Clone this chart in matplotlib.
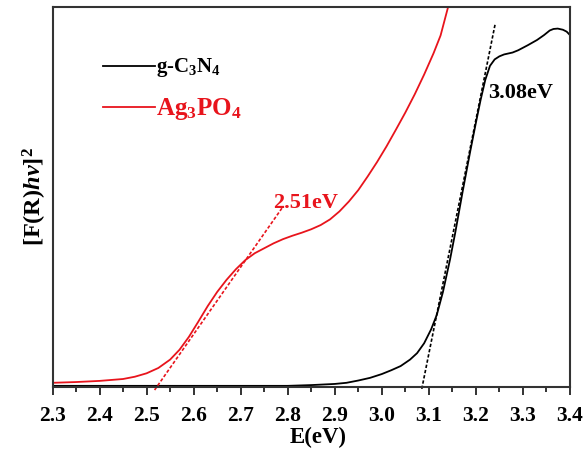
import matplotlib
matplotlib.use("Agg")
import matplotlib.pyplot as plt
from matplotlib.ticker import MultipleLocator

plt.rcParams['font.family'] = ['Liberation Serif', 'DejaVu Serif']
plt.rcParams['font.weight'] = 'bold'
plt.rcParams['mathtext.fontset'] = 'custom'
plt.rcParams['mathtext.rm'] = 'Liberation Serif:bold'
plt.rcParams['mathtext.bf'] = 'Liberation Serif:bold'
plt.rcParams['mathtext.it'] = 'Liberation Serif:italic:bold'

# ---- data ----
ag_E = [2.300, 2.350, 2.400, 2.450, 2.475, 2.500, 2.525, 2.550, 2.570, 2.590, 2.610,
        2.630, 2.650, 2.670, 2.690, 2.710, 2.730, 2.750, 2.770, 2.790, 2.810,
        2.830, 2.850, 2.870, 2.890, 2.910, 2.930, 2.950, 2.970, 2.990, 3.010,
        3.030, 3.050, 3.070, 3.090, 3.110, 3.125, 3.141, 3.160]
ag_V = [0.011, 0.013, 0.016, 0.021, 0.027, 0.036, 0.050, 0.072, 0.098, 0.132, 0.172,
        0.213, 0.250, 0.282, 0.310, 0.334, 0.352, 0.365, 0.378, 0.389, 0.398,
        0.406, 0.415, 0.426, 0.441, 0.462, 0.488, 0.518, 0.554, 0.592, 0.633,
        0.677, 0.722, 0.770, 0.822, 0.878, 0.925, 1.000, 1.060]

cn_E = [2.300, 2.500, 2.700, 2.800, 2.850, 2.900, 2.925, 2.950, 2.975, 3.000, 3.020,
        3.040, 3.060, 3.075, 3.090, 3.105, 3.117, 3.130, 3.145, 3.156, 3.172,
        3.188, 3.200, 3.210, 3.220, 3.230, 3.240, 3.250, 3.260, 3.278, 3.290,
        3.310, 3.330, 3.345, 3.357, 3.365, 3.374, 3.385, 3.393, 3.400]
cn_V = [0.003, 0.003, 0.003, 0.003, 0.005, 0.008, 0.011, 0.017, 0.024, 0.034, 0.044,
        0.055, 0.072, 0.089, 0.115, 0.152, 0.190, 0.250, 0.335, 0.405, 0.515,
        0.620, 0.695, 0.755, 0.808, 0.845, 0.862, 0.870, 0.875, 0.880, 0.886,
        0.899, 0.913, 0.926, 0.938, 0.942, 0.943, 0.940, 0.935, 0.926]

ag_tan_E = [2.517, 2.788]
ag_tan_V = [-0.008, 0.471]
cn_tan_E = [3.085, 3.241]
cn_tan_V = [-0.005, 0.955]

ag_gap_label = "2.51eV"
cn_gap_label = "3.08eV"
xticks = [2.3, 2.4, 2.5, 2.6, 2.7, 2.8, 2.9, 3.0, 3.1, 3.2, 3.3, 3.4]

fig = plt.figure(figsize=(5.88, 4.59), dpi=100)
ax = fig.add_axes([0.0893, 0.1569, 0.880, 0.828])

red = '#e8141c'
ax.plot(cn_E, cn_V, color='black', lw=1.3)
ax.plot(ag_E, ag_V, color=red, lw=1.3)
ax.plot(cn_tan_E, cn_tan_V, color='black', lw=1.2, ls=(0, (2, 1.2)), clip_on=False)
ax.plot(ag_tan_E, ag_tan_V, color=red, lw=1.2, ls=(0, (2, 1.2)), clip_on=False)

ax.text(2.769, 0.471, ag_gap_label, color=red, fontsize=16, fontweight='bold',
        ha='left', va='baseline')
ax.text(3.226, 0.761, cn_gap_label, color='black', fontsize=16, fontweight='bold',
        ha='left', va='baseline')

# legend drawn manually
ax.plot([0.0976, 0.198], [0.845, 0.845], color='black', lw=1.3, transform=ax.transAxes)
ax.text(0.200, 0.840, 'g-C$_3$N$_4$', color='black', fontsize=15, fontweight='bold',
        ha='left', va='center', transform=ax.transAxes)
ax.plot([0.0976, 0.198], [0.737, 0.737], color=red, lw=1.3, transform=ax.transAxes)
ax.text(0.200, 0.732, 'Ag$_3$PO$_4$', color=red, fontsize=18, fontweight='bold',
        ha='left', va='center', transform=ax.transAxes)

ax.set_xlim(2.3, 3.4)
ax.set_ylim(0, 1)
ax.set_xticks(xticks)
ax.set_xticklabels([f"{t:.1f}" for t in xticks])
ax.xaxis.set_minor_locator(MultipleLocator(0.05))
ax.set_yticks([])
ax.tick_params(axis='x', which='major', direction='out', length=6, width=1.3,
               labelsize=15.5, pad=8, colors='#222222')
ax.tick_params(axis='x', which='minor', direction='out', length=3.5, width=1.3,
               colors='#222222')
for lab in ax.get_xticklabels():
    lab.set_fontweight('bold')
    lab.set_color('black')
for s in ax.spines.values():
    s.set_linewidth(1.5)
    s.set_color('#333333')

ax.set_xlabel('E(eV)', fontsize=16.5, fontweight='bold')
ax.xaxis.set_label_coords(0.513, -0.134)
ax.xaxis.label.set_va('center')
ax.set_ylabel(r'[F(R)$\mathit{hv}$]$^{2}$', fontsize=17.5, fontweight='bold')
ax.yaxis.set_label_coords(-0.034, 0.50)
ax.yaxis.label.set_va('center')

fig.savefig('out.png', dpi=100)
